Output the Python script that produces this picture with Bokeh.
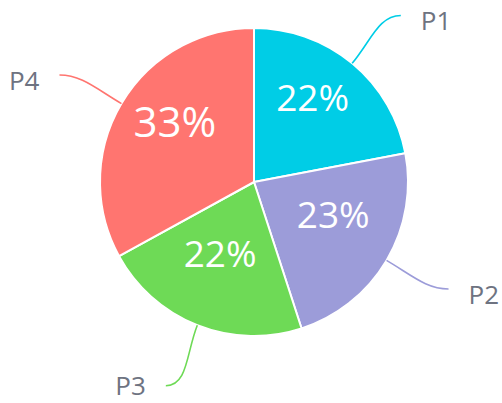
import math
from bokeh.plotting import figure
from bokeh.models import Range1d, ColumnDataSource
from bokeh.core.properties import value
from bokeh.embed import file_html
from bokeh.resources import INLINE

# ---- data ----
categories = ["P1", "P2", "P3", "P4"]
shares = [22, 23, 22, 33]
pct_labels = ["22%", "23%", "22%", "33%"]
colors = ["#00CDE6", "#9C9CD9", "#6EDA56", "#FF7570"]

# ---- layout / style ----
W, H = 502, 403
CX, CY = 253.5, 221.5
R = 154
FONT = "Open Sans"
label_color = "#6E7381"

p = figure(width=W, height=H, output_backend="svg", toolbar_location=None,
           x_range=Range1d(0, W), y_range=Range1d(0, H), min_border=0)
p.axis.visible = False
p.grid.visible = False
p.outline_line_color = None
p.background_fill_color = "white"

total = sum(shares)
starts, ends, mids = [], [], []
cum = 0
for v in shares:
    a = math.pi / 2 - 2 * math.pi * cum / total
    cum += v
    b = math.pi / 2 - 2 * math.pi * cum / total
    starts.append(b)
    ends.append(a)
    mids.append((a + b) / 2)

src = ColumnDataSource(dict(x=[CX] * len(shares), y=[CY] * len(shares),
                            start=starts, end=ends, color=colors))
p.wedge(x="x", y="y", radius=R, start_angle="start", end_angle="end",
        fill_color="color", line_color="white", line_width=2, source=src)

# percentage labels inside
px_, py_, sizes = [], [], []
for m, v in zip(mids, shares):
    rl = 92
    px_.append(CX + rl * math.cos(m))
    py_.append(CY + rl * math.sin(m) + 15)
    sizes.append("42px" if v == max(shares) else "37px")
p.text(x=px_, y=py_, text=pct_labels, text_color="white", text_font=value(FONT),
       text_font_size=sizes, text_align="center", text_baseline="middle")

# leader lines and outside labels
x0s, y0s, x1s, y1s, c0x, c0y, c1x, c1y = [], [], [], [], [], [], [], []
lx, ly, aligns = [], [], []
for m in mids:
    c, s = math.cos(m), math.sin(m)
    sx, sy = CX + R * c, CY + R * s
    tweak = -math.radians(1.8) * (1 if c * s > 0 else -1)
    e = m + tweak
    ex, ey = CX + 222 * math.cos(e), CY + 222 * math.sin(e)
    side = 1 if c > 0 else -1
    x0s.append(sx); y0s.append(sy); x1s.append(ex); y1s.append(ey)
    c0x.append(CX + (R + 30) * c); c0y.append(CY + (R + 30) * s)
    c1x.append(ex - side * 22); c1y.append(ey)
    lx.append(ex + side * 20)
    ly.append(max(ey - 5, 19))  # keep label box inside the plot
    aligns.append("left" if side > 0 else "right")

p.bezier(x0=x0s, y0=y0s, x1=x1s, y1=y1s, cx0=c0x, cy0=c0y, cx1=c1x, cy1=c1y,
         line_color=colors, line_width=1.6)
p.text(x=lx, y=ly, text=categories, text_color=label_color, text_font=value(FONT),
       text_font_size="26px", text_align=aligns, text_baseline="middle")

open("out.html", "w").write(file_html(p, INLINE))
